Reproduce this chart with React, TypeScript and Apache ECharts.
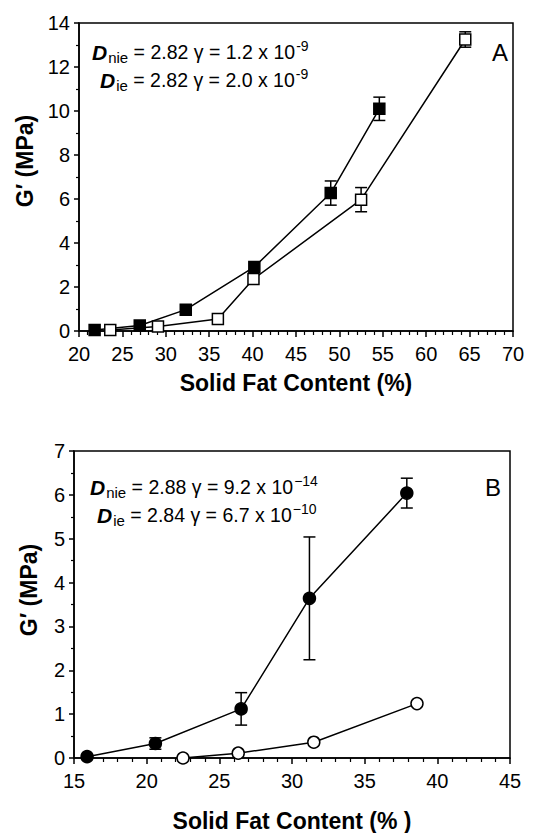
import React, { useEffect, useRef } from "react";
import * as echarts from "echarts";

// Panel A (squares)
const sfcA_nie = [21.8, 27.0, 32.3, 40.2, 49.0, 54.6];
const gA_nie = [0.05, 0.25, 0.97, 2.91, 6.27, 10.1];
const errA_nie = [0, 0, 0, 0, 0.55, 0.53];
const sfcA_ie = [23.6, 29.1, 36.0, 40.1, 52.5, 64.5];
const gA_ie = [0.05, 0.2, 0.55, 2.36, 5.97, 13.25];
const errA_ie = [0, 0, 0, 0, 0.55, 0.35];

// Panel B (circles)
const sfcB_nie = [15.9, 20.6, 26.5, 31.2, 37.9];
const gB_nie = [0.03, 0.33, 1.12, 3.64, 6.04];
const errB_nie = [0, 0.13, 0.37, 1.4, 0.34];
const sfcB_ie = [22.5, 26.3, 31.5, 38.6];
const gB_ie = [0.0, 0.11, 0.36, 1.24];

const FONT = "'Liberation Sans', Arial, Helvetica, sans-serif";

const pairs = (xs: number[], ys: number[]) => xs.map((x, i) => [x, ys[i]]);
const errData = (xs: number[], ys: number[], es: number[]) =>
  xs.map((x, i) => [x, ys[i], es[i]]).filter((d) => d[2] > 0);

const errorSeries = (xs: number[], ys: number[], es: number[], idx: number) => ({
  type: "custom",
  xAxisIndex: idx,
  yAxisIndex: idx,
  z: 1,
  data: errData(xs, ys, es),
  renderItem: (_p: any, api: any) => {
    const x = api.value(0);
    const y = api.value(1);
    const e = api.value(2);
    const top = api.coord([x, y + e]);
    const bot = api.coord([x, y - e]);
    const w = 6;
    const st = { stroke: "#000", lineWidth: 1.5 };
    return {
      type: "group",
      children: [
        { type: "line", shape: { x1: top[0], y1: top[1], x2: bot[0], y2: bot[1] }, style: st },
        { type: "line", shape: { x1: top[0] - w, y1: top[1], x2: top[0] + w, y2: top[1] }, style: st },
        { type: "line", shape: { x1: bot[0] - w, y1: bot[1], x2: bot[0] + w, y2: bot[1] }, style: st },
      ],
    };
  },
});

const lineSeries = (
  xs: number[],
  ys: number[],
  idx: number,
  symbol: string,
  filled: boolean,
  size: number
) => ({
  type: "line",
  xAxisIndex: idx,
  yAxisIndex: idx,
  z: 3,
  data: pairs(xs, ys),
  symbol,
  symbolSize: size,
  showSymbol: true,
  lineStyle: { color: "#000", width: 1.5 },
  itemStyle: { color: filled ? "#000" : "#fff", borderColor: "#000", borderWidth: 1.5 },
});

const xAxisCfg = (min: number, max: number, gridIndex: number, gap: number, title: string) => ({
  type: "value",
  gridIndex,
  min,
  max,
  interval: 5,
  name: title,
  nameLocation: "middle",
  nameGap: gap,
  nameTextStyle: { fontFamily: FONT, fontWeight: "bold", fontSize: 23, color: "#000" },
  axisLine: { lineStyle: { color: "#000", width: 1.5 } },
  axisTick: { show: true, length: 6, lineStyle: { color: "#000", width: 1.5 } },
  minorTick: { show: true, splitNumber: 5, length: 4, lineStyle: { color: "#000", width: 1.2 } },
  axisLabel: { fontFamily: FONT, fontSize: 20, color: "#000", margin: 13 },
  splitLine: { show: false },
  minorSplitLine: { show: false },
});

const yAxisCfg = (max: number, interval: number, gridIndex: number) => ({
  type: "value",
  gridIndex,
  min: 0,
  max,
  interval,
  axisLine: { show: true, lineStyle: { color: "#000", width: 1.5 } },
  axisTick: { show: true, length: 5, lineStyle: { color: "#000", width: 1.5 } },
  minorTick: { show: true, splitNumber: 2, length: 3, lineStyle: { color: "#000", width: 1.2 } },
  axisLabel: { fontFamily: FONT, fontSize: 20, color: "#000", margin: 9 },
  splitLine: { show: false },
  minorSplitLine: { show: false },
});

const rich = {
  D: { fontFamily: FONT, fontWeight: "bold", fontStyle: "italic", fontSize: 21, fill: "#000" },
  sub: { fontFamily: FONT, fontSize: 15, fill: "#000", padding: [10, 0, 0, 1] },
  t: { fontFamily: FONT, fontSize: 19.5, fill: "#000" },
  sup: { fontFamily: FONT, fontSize: 14, fill: "#000", padding: [0, 0, 12, 1] },
};

const annot = (x: number, y: number, sub: string, d: string, g: string, exp: string) => ({
  type: "text",
  x,
  y,
  style: {
    text: `{D|D}{sub|${sub}}{t| = ${d} γ = ${g} x 10}{sup|${exp}}`,
    rich,
    verticalAlign: "middle",
    align: "left",
  },
});

const yTitle = (x: number, y: number) => ({
  type: "text",
  x,
  y,
  rotation: Math.PI / 2,
  style: {
    text: "G′ (MPa)",
    fontFamily: FONT,
    fontWeight: "bold",
    fontSize: 23,
    fill: "#000",
    align: "center",
    verticalAlign: "middle",
  },
});

const panelLabel = (x: number, y: number, s: string) => ({
  type: "text",
  x,
  y,
  style: { text: s, fontFamily: FONT, fontSize: 24, fill: "#000", align: "center", verticalAlign: "middle" },
});

export default function App() {
  const ref = useRef<HTMLDivElement>(null);
  useEffect(() => {
    if (!ref.current) return;
    const chart = echarts.init(ref.current, undefined, { renderer: "svg" });
    chart.setOption({
      animation: false,
      backgroundColor: "#fff",
      textStyle: { fontFamily: FONT },
      grid: [
        { left: 79, top: 23, width: 434, height: 308, show: true, borderColor: "#000", borderWidth: 1.5, backgroundColor: "transparent" },
        { left: 74, top: 451, width: 436, height: 307, show: true, borderColor: "#000", borderWidth: 1.5, backgroundColor: "transparent" },
      ],
      xAxis: [
        xAxisCfg(20, 70, 0, 40, "Solid Fat Content (%)"),
        xAxisCfg(15, 45, 1, 51, "Solid Fat Content (% )"),
      ],
      yAxis: [yAxisCfg(14, 2, 0), yAxisCfg(7, 1, 1)],
      series: [
        errorSeries(sfcA_nie, gA_nie, errA_nie, 0),
        errorSeries(sfcA_ie, gA_ie, errA_ie, 0),
        lineSeries(sfcA_nie, gA_nie, 0, "rect", true, 11),
        lineSeries(sfcA_ie, gA_ie, 0, "rect", false, 11),
        errorSeries(sfcB_nie, gB_nie, errB_nie, 1),
        lineSeries(sfcB_nie, gB_nie, 1, "circle", true, 12),
        lineSeries(sfcB_ie, gB_ie, 1, "circle", false, 12),
      ],
      graphic: [
        annot(92, 52, "nie", "2.82", "1.2", "-9"),
        annot(100, 80, "ie", "2.82", "2.0", "-9"),
        annot(90, 487, "nie", "2.88", "9.2", "−14"),
        annot(97, 515, "ie", "2.84", "6.7", "−10"),
        panelLabel(500, 52, "A"),
        panelLabel(493, 487, "B"),
        yTitle(25, 161),
        yTitle(29, 590),
      ],
    });
    return () => chart.dispose();
  }, []);
  return (
    <div
      ref={ref}
      style={{ position: "absolute", left: 0, top: 0, width: 558, height: 833 }}
    />
  );
}
